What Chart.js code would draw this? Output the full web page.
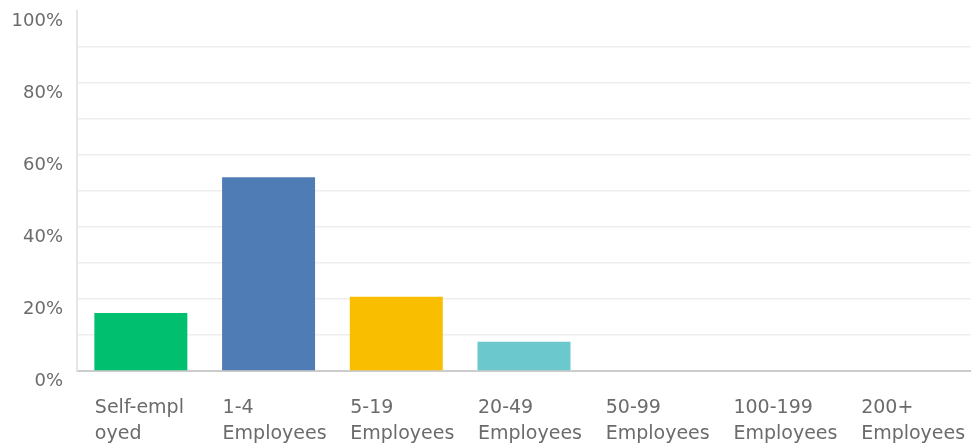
<!DOCTYPE html>
<html>
<head>
<meta charset="utf-8">
<script src="https://cdn.jsdelivr.net/npm/chart.js@4"></script>
<style>
  html, body { margin: 0; padding: 0; background: #fff; }
  #wrap { width: 971px; height: 447px; }
</style>
</head>
<body>
<div id="wrap"><canvas id="grafico"></canvas></div>
<script>
const categories = [
    ['Self-empl', 'oyed'],
    ['1-4', 'Employees'],
    ['5-19', 'Employees'],
    ['20-49', 'Employees'],
    ['50-99', 'Employees'],
    ['100-199', 'Employees'],
    ['200+', 'Employees']
];
const percentages = [16.1, 53.8, 20.6, 8.1, 0, 0, 0];
const barColors = ['#00bf6f', '#507cb6', '#f9be00', '#6bc8cd', '#00bf6f', '#507cb6', '#f9be00'];
const yTicks = [0, 20, 40, 60, 80, 100];

document.addEventListener('DOMContentLoaded', () => {
    const ctx = document.getElementById('grafico').getContext('2d');

    new Chart(ctx, {
        type: 'bar',
        data: {
            labels: categories,
            datasets: [{
                data: percentages,
                backgroundColor: barColors,
                borderWidth: 0,
                categoryPercentage: 1,
                barPercentage: 0.728
            }]
        },
        options: {
            responsive: true,
            maintainAspectRatio: false,
            animation: false,
            layout: { padding: { top: 11, right: 0, left: 0, bottom: 0 } },
            plugins: {
                legend: { display: false },
                tooltip: { enabled: false }
            },
            scales: {
                x: {
                    grid: { display: false, drawTicks: false },
                    border: { color: '#cccccc', width: 2 },
                    ticks: {
                        color: '#6b6b6b',
                        font: { family: 'DejaVu Sans', size: 19, lineHeight: 1.32 },
                        align: 'start',
                        labelOffset: -46,
                        padding: 25,
                        maxRotation: 0,
                        autoSkip: false
                    },
                    afterFit: s => {
                        s.height = 76;
                        s.paddingLeft = 0;
                        s.paddingRight = 0;
                    }
                },
                y: {
                    min: 0,
                    max: 100,
                    grid: {
                        drawTicks: false,
                        color: c => (c.tick.value === 100 || c.tick.value === 0) ? 'rgba(0,0,0,0)' : '#eeeeee',
                        lineWidth: 1.5
                    },
                    border: { color: '#e6e6e6', width: 2 },
                    ticks: {
                        stepSize: 10,
                        color: '#6b6b6b',
                        font: { family: 'DejaVu Sans', size: 18 },
                        padding: 14,
                        labelOffset: 10,
                        callback: v => yTicks.includes(v) ? v + '%' : ''
                    },
                    afterFit: s => {
                        s.width = 77;
                        s.paddingTop = 0;
                        s.paddingBottom = 0;
                    }
                }
            }
        }
    });
});
</script>
</body>
</html>
